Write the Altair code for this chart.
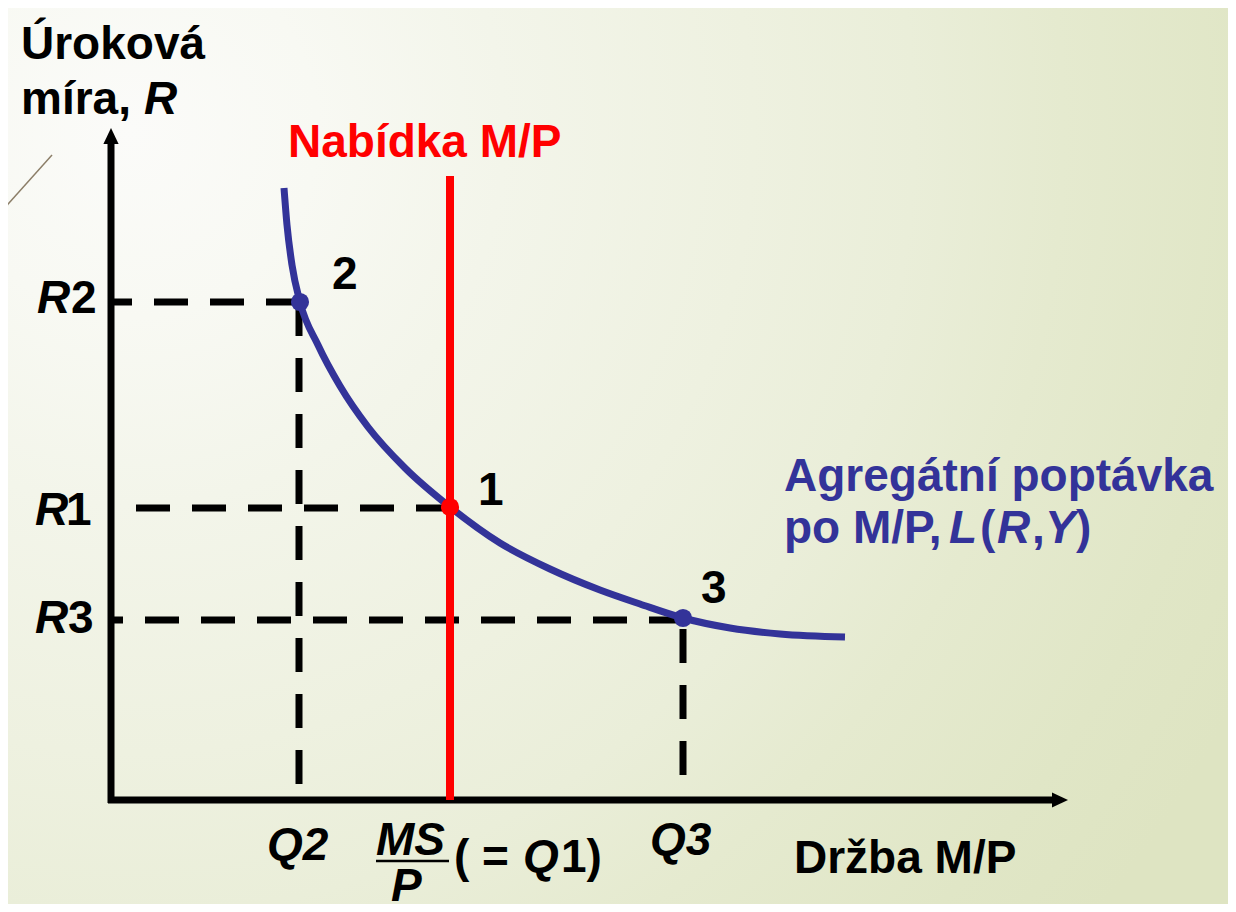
import altair as alt
import pandas as pd

# ---- data (schematic units: quantity of real money, interest rate) ----
# demand curve L(R, Y)
curve_q = [173, 176, 181, 189, 207, 229, 257, 294, 339, 389, 439, 489, 529, 572, 619, 669, 734]
curve_r = [612, 575, 535, 498, 455, 414, 373, 332, 293, 257, 231, 210, 196, 182, 172, 166, 163]

# equilibrium points
pt_name = ["2", "1", "3"]
pt_q = [189, 339, 572]
pt_r = [498, 293, 182]
pt_color = ["#333399", "#ff0000", "#333399"]

# money supply MS/P
supply_q = [339, 339]
supply_r = [0, 624]

# dashed guide lines (segment, q, r)
guide_seg = ["R2", "R2", "R1", "R1", "R3", "R3", "Q2", "Q2", "Q3", "Q3"]
guide_q = [189, 0, 339, 0, 572, 0, 188, 188, 572, 572]
guide_r = [498, 498, 292, 292, 180, 180, 498, 0, 25, 180]

# axes
axis_seg = ["y", "y", "x", "x"]
axis_q = [0, 0, -3, 942]
axis_r = [-3, 657, 0, 0]

# text segments: text, q, r (baseline, left aligned), italic, colour
seg_text = ["Úroková", "míra, ", "R", "Nabídka M/P",
            "2", "1", "3",
            "R", "2", "R", "1", "R", "3",
            "Q2", "MS", "P", "( = ", "Q", "1)", "Q3", "Držba M/P",
            "Agregátní poptávka", "po M/P,", "L", "(", "R", ",", "Y", ")"]
seg_q = [-90, -90, 33, 177,
         221, 367, 590,
         -74, -40, -76, -45, -76, -43,
         156, 265, 280, 343, 412, 450, 539, 683,
         673, 673, 838, 869, 886, 921, 934, 965]
seg_r = [741, 686, 686, 643,
         511, 295, 197,
         487, 487, 275, 275, 167, 167,
         -60, -55, -101, -72, -72, -72, -55, -73,
         309, 257, 257, 257, 257, 257, 257, 257]
seg_italic = [False, False, True, False,
              False, False, False,
              True, False, True, False, True, False,
              True, True, True, False, True, False, True, False,
              False, False, True, False, True, False, True, False]
seg_color = ["#000000"] * 3 + ["#ff0000"] + ["#000000"] * 17 + ["#333399"] * 8

# underline of the MS fraction
frac_q = [265]
frac_q2 = [338]
frac_r = [-61]

# decorative stroke in the upper left corner
deco_q = [-111, -59]
deco_r = [587, 645]

# ---- chart ----
XS = alt.Scale(domain=[-103, 1117], nice=False, zero=False)
YS = alt.Scale(domain=[-104, 792], nice=False, zero=False)
FONT = "Liberation Sans"


def xy():
    return dict(x=alt.X("q:Q", scale=XS, axis=None), y=alt.Y("r:Q", scale=YS, axis=None))


grad = alt.RadialGradient(
    gradient="radial",
    x1=0.105, y1=0.105, r1=0,
    x2=0.105, y2=0.105, r2=1,
    stops=[
        alt.GradientStop(offset=0, color="#fbfbf9"),
        alt.GradientStop(offset=0.15, color="#f8f9f3"),
        alt.GradientStop(offset=0.3, color="#f3f5ea"),
        alt.GradientStop(offset=0.5, color="#eef1e0"),
        alt.GradientStop(offset=0.63, color="#eaeed9"),
        alt.GradientStop(offset=0.75, color="#e5eacf"),
        alt.GradientStop(offset=0.9, color="#e0e6c6"),
        alt.GradientStop(offset=1, color="#dee4c2"),
    ],
)

bg = alt.Chart(pd.DataFrame({"a": [0]})).mark_rect(fill=grad, strokeWidth=0).encode(
    x=alt.value(-8), x2=alt.value(1236), y=alt.value(-8), y2=alt.value(1236)
)

deco = alt.Chart(pd.DataFrame({"q": deco_q, "r": deco_r})).mark_line(
    color="#8c7e68", strokeWidth=1.5
).encode(**xy())

guides = alt.Chart(pd.DataFrame({
    "seg": guide_seg, "q": guide_q, "r": guide_r, "o": list(range(len(guide_seg)))
})).mark_line(color="#000000", strokeWidth=7, strokeDash=[34, 22], strokeCap="butt").encode(
    **xy(), detail="seg:N", order="o:Q"
)

axes = alt.Chart(pd.DataFrame({
    "seg": axis_seg, "q": axis_q, "r": axis_r, "o": list(range(len(axis_seg)))
})).mark_line(color="#000000", strokeWidth=7, strokeCap="butt").encode(
    **xy(), detail="seg:N", order="o:Q"
)

arrow_up = alt.Chart(pd.DataFrame({"q": [0], "r": [664]})).mark_point(
    shape="M0,-1L0.95,1L-0.95,1Z", filled=True, size=256, color="#000000", opacity=1
).encode(**xy())

arrow_right = alt.Chart(pd.DataFrame({"q": [949], "r": [0]})).mark_point(
    shape="M1,0L-1,-0.95L-1,0.95Z", filled=True, size=256, color="#000000", opacity=1
).encode(**xy())

supply = alt.Chart(pd.DataFrame({"q": supply_q, "r": supply_r})).mark_line(
    color="#ff0000", strokeWidth=8
).encode(**xy())

demand = alt.Chart(pd.DataFrame({"q": curve_q, "r": curve_r})).mark_line(
    color="#333399", strokeWidth=7, interpolate="monotone"
).encode(**xy())

points = alt.Chart(pd.DataFrame({"q": pt_q, "r": pt_r, "c": pt_color, "n": pt_name})).mark_circle(
    size=330, opacity=1
).encode(**xy(), color=alt.Color("c:N", scale=None))

underline = alt.Chart(pd.DataFrame({"q": frac_q, "q2": frac_q2, "r": frac_r})).mark_rule(
    color="#000000", strokeWidth=2.5
).encode(x=alt.X("q:Q", scale=XS, axis=None), x2="q2:Q", y=alt.Y("r:Q", scale=YS, axis=None))

labels_df = pd.DataFrame({
    "t": seg_text, "q": seg_q, "r": seg_r, "it": seg_italic, "c": seg_color
})

text_normal = alt.Chart(labels_df[~labels_df["it"]]).mark_text(
    font=FONT, fontSize=46, fontWeight="bold", align="left", baseline="alphabetic"
).encode(**xy(), text="t:N", color=alt.Color("c:N", scale=None))

text_italic = alt.Chart(labels_df[labels_df["it"]]).mark_text(
    font=FONT, fontSize=46, fontWeight="bold", fontStyle="italic", align="left", baseline="alphabetic"
).encode(**xy(), text="t:N", color=alt.Color("c:N", scale=None))

chart = alt.layer(
    bg, deco, guides, axes, arrow_up, arrow_right, supply, demand, points,
    underline, text_normal, text_italic
).properties(
    width=1220, height=896, padding=0, autosize="none"
).configure_view(stroke=None).configure(background="#ffffff")

chart.save("out.html", embed_options={"renderer": "svg", "actions": False})
